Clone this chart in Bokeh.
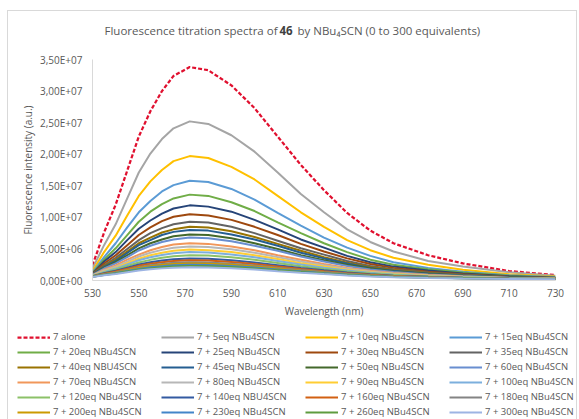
from bokeh.plotting import figure
from bokeh.layouts import column
from bokeh.models import (ColumnDataSource, Legend, LegendItem, Label, FixedTicker,
                          CustomJSTickFormatter, Range1d)
from bokeh.embed import file_html
from bokeh.resources import INLINE

# ---------------- data (intensity in units of 1E+06 a.u.) ----------------
wavelength = [530, 535, 540, 545, 550, 555, 560, 565, 572, 580, 590, 600,
              610, 620, 630, 640, 650, 660, 675, 690, 710, 730]

x_ticks = [530, 550, 570, 590, 610, 630, 650, 670, 690, 710, 730]
y_ticks = [0, 5, 10, 15, 20, 25, 30, 35]

labels = ["7 alone", "7 + 5eq NBu4SCN", "7 + 10eq NBu4SCN", "7 + 15eq NBu4SCN",
          "7 + 20eq NBu4SCN", "7 + 25eq NBu4SCN", "7 + 30eq NBu4SCN", "7 + 35eq NBu4SCN",
          "7 + 40eq NBU4SCN", "7 + 45eq NBu4SCN", "7 + 50eq NBu4SCN", "7 + 60eq NBu4SCN",
          "7 + 70eq NBu4SCN", "7 + 80eq NBu4SCN", "7 + 90eq NBu4SCN", "7 + 100eq NBu4SCN",
          "7 + 120eq NBu4SCN", "7 + 140eq NBU4SCN", "7 + 160eq NBu4SCN", "7 + 180eq NBu4SCN",
          "7 + 200eq NBu4SCN", "7 + 230eq NBu4SCN", "7 + 260eq NBu4SCN", "7 + 300eq NBu4SCN"]

colors = ["#E0102F", "#A5A5A5", "#FFC000", "#5B9BD5", "#70AD47", "#264478",
          "#9E480E", "#636363", "#997300", "#255E91", "#43682B", "#698ED0",
          "#F1975A", "#B7B7B7", "#FFCD33", "#7CAFDD", "#8CC168", "#335AA1",
          "#D26012", "#848484", "#CC9A00", "#4285C9", "#5E9C3F", "#9DB4E3"]

alone = [2.4, 7.6, 12.0, 17.4, 22.8, 26.8, 30.0, 32.4, 33.8, 33.3, 30.9, 27.3,
         22.8, 18.3, 14.3, 10.7, 7.9, 5.9, 4.0, 2.7, 1.5, 0.85]
eq5 = [1.9, 5.6, 8.9, 13.0, 17.1, 20.1, 22.4, 24.1, 25.2, 24.8, 23.0, 20.4,
       17.1, 13.7, 10.8, 8.1, 6.1, 4.6, 3.1, 2.2, 1.3, 0.75]
eq10 = [1.5, 4.5, 7.1, 10.3, 13.4, 15.7, 17.5, 18.9, 19.7, 19.4, 18.0, 16.0,
        13.4, 10.8, 8.5, 6.4, 4.8, 3.6, 2.5, 1.7, 1.0, 0.63]
eq15 = [1.3, 3.7, 5.9, 8.4, 10.8, 12.6, 14.1, 15.1, 15.8, 15.6, 14.5, 12.8,
        10.7, 8.7, 6.8, 5.2, 3.9, 2.9, 2.0, 1.4, 0.85, 0.54]
eq20 = [1.2, 3.3, 5.1, 7.2, 9.3, 10.9, 12.1, 13.0, 13.6, 13.4, 12.4, 11.0,
        9.2, 7.5, 5.9, 4.5, 3.3, 2.5, 1.8, 1.25, 0.75, 0.48]
eq25 = [1.1, 3.0, 4.5, 6.4, 8.2, 9.5, 10.6, 11.4, 11.9, 11.7, 10.9, 9.6,
        8.1, 6.5, 5.2, 3.9, 2.9, 2.2, 1.6, 1.1, 0.68, 0.44]
eq30 = [1.05, 2.7, 4.0, 5.6, 7.2, 8.4, 9.4, 10.1, 10.5, 10.3, 9.6, 8.5,
        7.2, 5.8, 4.6, 3.5, 2.6, 2.0, 1.4, 1.0, 0.61, 0.40]
eq35 = [1.0, 2.4, 3.6, 5.0, 6.4, 7.5, 8.3, 8.9, 9.3, 9.2, 8.5, 7.5,
        6.3, 5.1, 4.1, 3.1, 2.3, 1.8, 1.25, 0.90, 0.56, 0.37]
eq40 = [0.95, 2.3, 3.3, 4.6, 5.9, 6.8, 7.6, 8.1, 8.5, 8.4, 7.8, 6.9,
        5.8, 4.7, 3.7, 2.8, 2.15, 1.65, 1.17, 0.84, 0.53, 0.35]
eq45 = [0.95, 2.15, 3.1, 4.35, 5.6, 6.4, 7.2, 7.7, 8.0, 7.9, 7.3, 6.5,
        5.5, 4.4, 3.5, 2.7, 2.0, 1.56, 1.11, 0.80, 0.50, 0.34]
eq50 = [0.9, 2.0, 2.9, 4.0, 5.1, 5.9, 6.5, 7.0, 7.3, 7.2, 6.7, 5.9,
        5.0, 4.0, 3.2, 2.5, 1.9, 1.44, 1.03, 0.74, 0.47, 0.32]
eq60 = [0.88, 1.9, 2.7, 3.7, 4.75, 5.5, 6.1, 6.5, 6.8, 6.7, 6.2, 5.5,
        4.7, 3.8, 3.0, 2.3, 1.75, 1.35, 0.97, 0.70, 0.45, 0.31]
eq70 = [0.82, 1.7, 2.4, 3.3, 4.1, 4.8, 5.3, 5.7, 5.9, 5.8, 5.4, 4.8,
        4.0, 3.3, 2.6, 2.0, 1.54, 1.19, 0.86, 0.63, 0.41, 0.29]
eq80 = [0.8, 1.6, 2.2, 3.0, 3.8, 4.4, 4.85, 5.2, 5.4, 5.3, 4.95, 4.4,
        3.7, 3.0, 2.4, 1.86, 1.42, 1.11, 0.80, 0.59, 0.39, 0.28]
eq90 = [0.77, 1.45, 2.0, 2.75, 3.45, 4.0, 4.4, 4.7, 4.9, 4.8, 4.5, 4.0,
        3.4, 2.75, 2.2, 1.7, 1.31, 1.02, 0.74, 0.55, 0.37, 0.26]
eq100 = [0.74, 1.36, 1.89, 2.55, 3.2, 3.67, 4.05, 4.33, 4.5, 4.43, 4.13, 3.67,
         3.1, 2.53, 2.03, 1.57, 1.21, 0.95, 0.69, 0.52, 0.35, 0.25]
eq120 = [0.71, 1.25, 1.71, 2.29, 2.86, 3.27, 3.61, 3.85, 4.0, 3.94, 3.67, 3.27,
         2.77, 2.26, 1.82, 1.41, 1.09, 0.86, 0.64, 0.48, 0.33, 0.24]
eq140 = [0.67, 1.14, 1.53, 2.03, 2.52, 2.88, 3.16, 3.37, 3.5, 3.44, 3.21, 2.86,
         2.43, 1.99, 1.61, 1.26, 0.98, 0.77, 0.58, 0.44, 0.31, 0.23]
eq160 = [0.65, 1.07, 1.43, 1.88, 2.32, 2.64, 2.9, 3.09, 3.2, 3.15, 2.94, 2.62,
         2.23, 1.83, 1.48, 1.16, 0.91, 0.72, 0.54, 0.41, 0.29, 0.22]
eq180 = [0.63, 1.0, 1.32, 1.72, 2.11, 2.4, 2.63, 2.8, 2.9, 2.85, 2.66, 2.38,
         2.02, 1.67, 1.35, 1.07, 0.84, 0.67, 0.51, 0.39, 0.28, 0.21]
eq200 = [0.61, 0.96, 1.25, 1.62, 1.98, 2.24, 2.45, 2.61, 2.7, 2.66, 2.48, 2.22,
         1.89, 1.56, 1.27, 1.0, 0.79, 0.63, 0.48, 0.37, 0.27, 0.21]
eq230 = [0.6, 0.91, 1.18, 1.52, 1.84, 2.08, 2.27, 2.42, 2.5, 2.46, 2.3, 2.05,
         1.75, 1.45, 1.18, 0.94, 0.74, 0.6, 0.46, 0.36, 0.26, 0.2]
eq260 = [0.59, 0.87, 1.11, 1.41, 1.71, 1.92, 2.1, 2.23, 2.3, 2.26, 2.12, 1.89,
         1.62, 1.34, 1.1, 0.88, 0.7, 0.56, 0.44, 0.34, 0.25, 0.2]
eq300 = [0.57, 0.82, 1.04, 1.31, 1.57, 1.77, 1.92, 2.03, 2.1, 2.06, 1.93, 1.73,
         1.48, 1.24, 1.01, 0.81, 0.65, 0.53, 0.41, 0.33, 0.25, 0.19]

series = [alone, eq5, eq10, eq15, eq20, eq25, eq30, eq35, eq40, eq45, eq50, eq60,
          eq70, eq80, eq90, eq100, eq120, eq140, eq160, eq180, eq200, eq230, eq260, eq300]

FONT = "Open Sans"
GREY = "#595959"
BORDER = "#D9D9D9"
W = 568

source = ColumnDataSource(data={"wl": wavelength, **{f"s{i}": s for i, s in enumerate(series)}})


def strip(height):
    f = figure(width=W, height=height, output_backend="svg", toolbar_location=None,
               x_range=Range1d(530, 730), y_range=Range1d(100, 101),
               x_axis_location=None, y_axis_location=None,
               min_border_left=0, min_border_right=0, min_border_top=0,
               min_border_bottom=0)
    f.outline_line_color = None
    f.grid.visible = False
    f.background_fill_color = "white"
    f.border_fill_color = "white"
    f.frame_align = False
    return f


# ---------------- title strip ----------------
pt = strip(39)
ty = 20
pt.add_layout(Label(x=272, y=ty, x_units="screen", y_units="screen",
                    text="Fluorescence  titration spectra of", text_align="right",
                    text_baseline="middle", text_font=FONT, text_font_size="11.5px",
                    text_color=GREY))
pt.add_layout(Label(x=271, y=ty, x_units="screen", y_units="screen",
                    text="46", text_align="left", text_baseline="middle",
                    text_font=FONT, text_font_size="11.5px", text_font_style="bold",
                    text_color="#404040"))
pt.add_layout(Label(x=289, y=ty, x_units="screen", y_units="screen",
                    text="by NBu\u2084SCN (0 to 300 equivalents)", text_align="left",
                    text_baseline="middle", text_font=FONT, text_font_size="11.5px",
                    text_color=GREY))

# ---------------- chart ----------------
p = figure(width=W, height=270, output_backend="svg", toolbar_location=None,
           x_range=Range1d(530, 730), y_range=Range1d(0, 35),
           min_border_left=84, min_border_right=21, min_border_top=9,
           min_border_bottom=38)
p.frame_align = False
p.outline_line_color = None
p.grid.visible = False
p.background_fill_color = "white"
p.border_fill_color = "white"

p.xaxis.ticker = FixedTicker(ticks=x_ticks)
p.yaxis.ticker = FixedTicker(ticks=y_ticks)
p.yaxis.formatter = CustomJSTickFormatter(code="""
    const v = tick * 1e6;
    if (v === 0) { return "0,00E+00"; }
    let e = Math.floor(Math.log10(Math.abs(v)));
    let m = v / Math.pow(10, e);
    if (Math.abs(m) >= 9.995) { m = m / 10; e += 1; }
    return m.toFixed(2).replace('.', ',') + 'E+' + (e < 10 ? '0' : '') + e;
""")

for ax in (p.xaxis, p.yaxis):
    ax.axis_line_color = BORDER
    ax.axis_line_width = 1
    ax.major_tick_line_color = None
    ax.minor_tick_line_color = None
    ax.major_tick_out = 0
    ax.major_tick_in = 0
    ax.minor_tick_out = 0
    ax.minor_tick_in = 0
    ax.major_label_text_font = FONT
    ax.major_label_text_font_size = "10px"
    ax.major_label_text_color = GREY
    ax.axis_label_text_font = FONT
    ax.axis_label_text_font_size = "10px"
    ax.axis_label_text_color = GREY
    ax.axis_label_text_font_style = "normal"

p.xaxis.axis_label = "Wavelength (nm)"
p.yaxis.axis_label = "Fluorescence intensity (a.u.)"
p.xaxis.major_label_standoff = 8
p.xaxis.axis_label_standoff = 4
p.yaxis.major_label_standoff = 10
p.yaxis.axis_label_standoff = 2

for i, col in enumerate(colors):
    if i == 0:
        p.line("wl", f"s{i}", source=source, line_color=col, line_width=2.25,
               line_dash="4 2")
    else:
        p.line("wl", f"s{i}", source=source, line_color=col, line_width=2)

# ---------------- legend strip ----------------
pl = strip(99)
items = []
for i, (lab, col) in enumerate(zip(labels, colors)):
    # same series, drawn outside this strip's visible range: only the legend shows
    if i == 0:
        r = pl.line("wl", f"s{i}", source=source, line_color=col, line_width=2.25,
                    line_dash="4 2")
    else:
        r = pl.line("wl", f"s{i}", source=source, line_color=col, line_width=2)
    items.append(LegendItem(label=lab, renderers=[r]))

legend = Legend(items=items, orientation="horizontal", ncols=4,
                location=(9, 0.5), glyph_width=33, glyph_height=14,
                label_width=107, label_height=14, label_standoff=3,
                spacing=1, padding=0, margin=0,
                label_text_font=FONT, label_text_font_size="9.5px",
                label_text_color=GREY, border_line_color=None,
                background_fill_alpha=0)
pl.add_layout(legend)

edge = "1px solid " + BORDER
layout = column(pt, p, pl, spacing=0, margin=(10, 0, 0, 7),
                styles={"border-top": edge, "border-left": edge, "border-right": edge})
open("out.html", "w").write(file_html(layout, INLINE))
